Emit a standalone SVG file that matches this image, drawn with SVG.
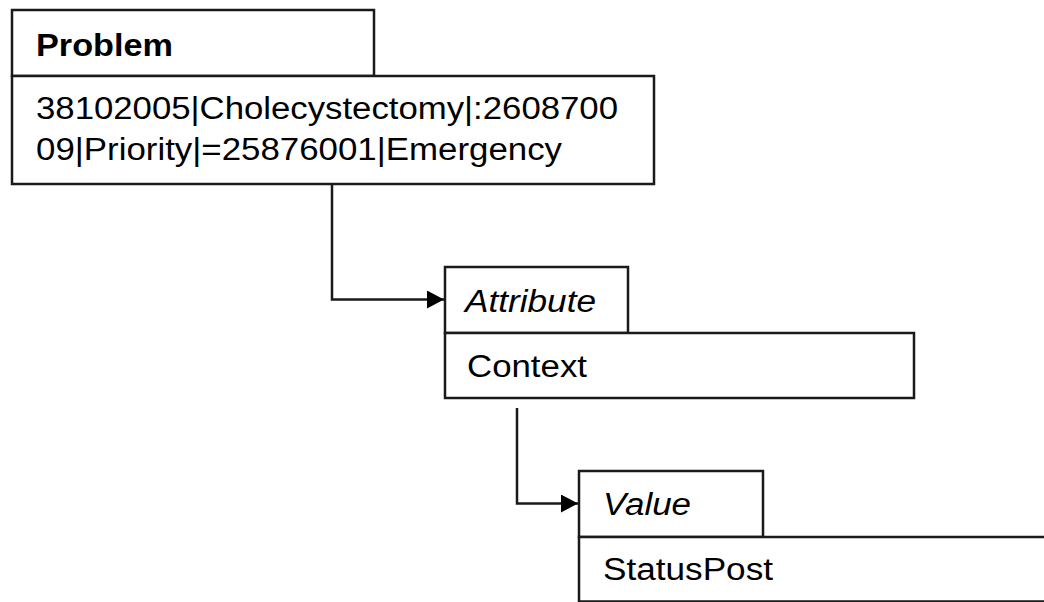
<svg xmlns="http://www.w3.org/2000/svg" width="1044" height="602" viewBox="0 0 1044 602">
<style>
.box{fill:#ffffff;stroke:#1a1a1a;stroke-width:2.5}
.t{font-family:"Liberation Sans",Arial,sans-serif;font-size:31px;fill:#000}
.b{font-weight:bold;font-size:32px}
.i{font-style:italic}
.conn{fill:none;stroke:#1a1a1a;stroke-width:2.5}
</style>
<defs>
<marker id="arr" viewBox="0 0 17 18" refX="17" refY="9" markerWidth="17" markerHeight="18" markerUnits="userSpaceOnUse" orient="auto">
<path d="M0,0 L17,9 L0,18 Z" fill="#000"/>
</marker>
</defs>
<rect width="1044" height="602" fill="#ffffff"/>
<g id="connectors">
<path class="conn" d="M332,184 V299.5 H444" marker-end="url(#arr)"/>
<path class="conn" d="M517,408 V503.5 H578" marker-end="url(#arr)"/>
</g>
<g id="problem">
<rect class="box" x="12" y="10" width="362" height="66"/>
<rect class="box" x="12" y="76" width="642" height="108"/>
<text class="t b" x="36" y="56" textLength="137" lengthAdjust="spacingAndGlyphs">Problem</text>
<text class="t" x="36" y="119" textLength="582" lengthAdjust="spacingAndGlyphs">38102005|Cholecystectomy|:2608700</text>
<text class="t" x="36" y="160" textLength="526" lengthAdjust="spacingAndGlyphs">09|Priority|=25876001|Emergency</text>
</g>
<g id="attribute">
<rect class="box" x="445" y="267" width="183" height="66"/>
<rect class="box" x="445" y="333" width="469" height="65"/>
<text class="t i" x="465" y="312" textLength="131" lengthAdjust="spacingAndGlyphs">Attribute</text>
<text class="t" x="467" y="377" textLength="120" lengthAdjust="spacingAndGlyphs">Context</text>
</g>
<g id="value">
<rect class="box" x="579" y="471" width="184" height="66"/>
<rect class="box" x="579" y="537" width="480" height="64.5"/>
<text class="t i" x="603" y="515" textLength="88" lengthAdjust="spacingAndGlyphs">Value</text>
<text class="t" x="603" y="580" textLength="170" lengthAdjust="spacingAndGlyphs">StatusPost</text>
</g>
</svg>
